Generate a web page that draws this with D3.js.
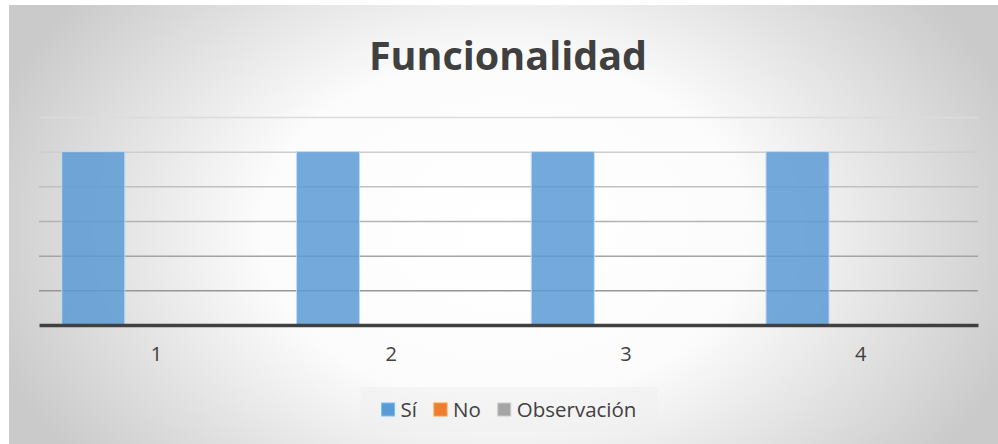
<!DOCTYPE html>
<html lang="es">
<head>
  <meta charset="utf-8">
  <title>Funcionalidad</title>
  <script src="https://d3js.org/d3.v7.min.js"></script>
  <style>
    html, body { margin: 0; padding: 0; background: #fff; }
    #chart text { font-family: "Open Sans", "Liberation Sans", sans-serif; fill: #404040; }
  </style>
</head>
<body>
  <div id="chart"></div>
  <script>
    "use strict"

    // datos
    var categorias = ["1", "2", "3", "4"];
    var series = ["Sí", "No", "Observación"];
    var valoresSi = [1, 1, 1, 1];
    var valoresNo = [0, 0, 0, 0];
    var valoresObs = [0, 0, 0, 0];
    var ticksY = [0, 0.2, 0.4, 0.6, 0.8, 1, 1.2];

    var colores = {"Sí": "#5b9bd5", "No": "#ed7d31", "Observación": "#a5a5a5"};

    var ancho = 998, alto = 444;
    var margen = {top: 117, right: 20, bottom: 119, left: 39};
    var larguraVis = ancho - margen.left - margen.right,
        alturaVis = alto - margen.top - margen.bottom;

    var svg = d3.select("#chart").append("svg")
      .attr("width", ancho)
      .attr("height", alto);

    var defs = svg.append("defs");
    var fondo = defs.append("radialGradient")
      .attr("id", "fondo")
      .attr("gradientUnits", "userSpaceOnUse")
      .attr("cx", 505).attr("cy", 230).attr("r", 540)
      .attr("gradientTransform", "translate(505,230) scale(1,0.7) translate(-505,-230)");
    fondo.append("stop").attr("offset", "0%").attr("stop-color", "#ffffff");
    fondo.append("stop").attr("offset", "45%").attr("stop-color", "#fcfcfc");
    fondo.append("stop").attr("offset", "100%").attr("stop-color", "#cacaca");

    svg.append("rect")
      .attr("x", 9).attr("y", 5)
      .attr("width", ancho - 9).attr("height", alto - 5)
      .attr("fill", "url(#fondo)");

    // titulo
    svg.append("text")
      .attr("x", 508)
      .attr("y", 70)
      .attr("text-anchor", "middle")
      .style("font-size", "39.5px")
      .style("font-weight", "bold")
      .text("Funcionalidad");

    var g = svg.append("g")
      .attr("transform", "translate(" + margen.left + "," + margen.top + ")");

    var x0 = d3.scaleBand().domain(categorias).range([0, larguraVis]).padding(0);
    var x1 = d3.scaleBand().domain(series).range([0, x0.bandwidth()])
      .paddingInner(0).paddingOuter(0.36);
    var y = d3.scaleLinear().domain([0, 1.2]).range([alturaVis, 0]);

    var tonoGrid = d3.scaleLinear().domain([0, 1.2]).range(["#888888", "#dcdcdc"]);

    // lineas de la cuadricula
    g.append("g")
      .call(d3.axisLeft(y).tickValues(ticksY.slice(1)).tickSize(-larguraVis).tickFormat(""))
      .call(function(a) {
        a.select(".domain").remove();
        a.selectAll(".tick line")
          .attr("stroke", function(d) { return tonoGrid(d); })
          .attr("stroke-width", 1.5);
      });

    var tabla = categorias.map(function(c, i) {
      return {cat: c, valores: [
        {serie: "Sí", v: valoresSi[i]},
        {serie: "No", v: valoresNo[i]},
        {serie: "Observación", v: valoresObs[i]}
      ]};
    });

    g.append("g").selectAll("g")
      .data(tabla)
      .enter().append("g")
        .attr("transform", function(d) { return "translate(" + x0(d.cat) + ",0)"; })
      .selectAll("rect")
      .data(function(d) { return d.valores; })
      .enter().append("rect")
        .attr("x", function(d) { return x1(d.serie); })
        .attr("y", function(d) { return y(d.v); })
        .attr("width", x1.bandwidth())
        .attr("height", function(d) { return alturaVis - y(d.v); })
        .attr("fill", function(d) { return colores[d.serie]; })
        .attr("fill-opacity", 0.85)
        .attr("stroke", "#c5dcf0")
        .attr("stroke-width", 1);

    // eje x
    g.append("g")
      .attr("transform", "translate(0," + alturaVis + ")")
      .call(d3.axisBottom(x0).tickSize(0).tickPadding(22))
      .call(function(a) {
        a.select(".domain").attr("stroke", "#404040").attr("stroke-width", 3.5);
        a.selectAll("text").style("font-size", "20px").attr("fill", "#404040");
      });

    // leyenda
    var ley = svg.append("g");
    var cajaLey = ley.append("rect")
      .attr("y", 387).attr("height", 45)
      .attr("fill", "#eeeeee").attr("fill-opacity", 0.55);

    var xCursor = 0;
    var items = ley.append("g");
    series.forEach(function(s, i) {
      var it = items.append("g").attr("transform", "translate(" + xCursor + ",0)");
      it.append("rect")
        .attr("x", 0).attr("y", 403)
        .attr("width", 13).attr("height", 13)
        .attr("fill", colores[s])
        .attr("stroke", d3.color(colores[s]).brighter(0.6))
        .attr("stroke-width", 1);
      var t = it.append("text")
        .attr("x", 19).attr("y", 416.5)
        .style("font-size", "20.5px")
        .text(s);
      xCursor += 19 + t.node().getComputedTextLength() + 17;
    });
    var anchoItems = xCursor - 17;
    var inicio = 509 - anchoItems / 2;
    items.attr("transform", "translate(" + inicio + ",0)");
    cajaLey.attr("x", inicio - 21).attr("width", anchoItems + 42);
  </script>
</body>
</html>
